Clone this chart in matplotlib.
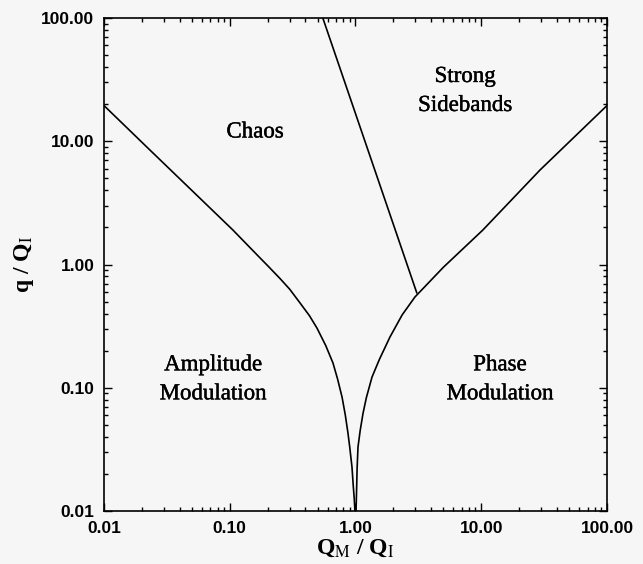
import matplotlib
matplotlib.use("Agg")
import matplotlib.pyplot as plt
import matplotlib.patheffects as pe
from matplotlib.ticker import FixedLocator, FixedFormatter, LogLocator, NullFormatter

# boundary curves (log-log)
left_x = [0.01, 0.0232, 0.106, 0.17, 0.2, 0.251, 0.3, 0.362, 0.43, 0.494, 0.58,
          0.662, 0.72, 0.782, 0.83, 0.871, 0.9, 0.938, 0.96, 0.978, 0.99]
left_y = [19.5, 8.49, 1.905, 1.16, 0.98, 0.77, 0.63, 0.488, 0.385, 0.305, 0.22,
          0.159, 0.118, 0.084, 0.06, 0.043, 0.033, 0.0227, 0.016, 0.0125, 0.01]

right_x = [1.01, 1.02, 1.03, 1.047, 1.09, 1.148, 1.22, 1.353, 1.55, 1.88, 2.35,
           2.97, 5.0, 10.3, 29.3, 100.0]
right_y = [0.01, 0.0145, 0.022, 0.033, 0.045, 0.062, 0.083, 0.122, 0.17, 0.258, 0.39,
           0.545, 0.95, 1.905, 5.84, 19.5]

steep_x = [0.55, 3.07]
steep_y = [100.0, 0.59]

tick_vals = [0.01, 0.1, 1.0, 10.0, 100.0]
xtick_labels = ["0.01", "0.10", "1.00", "10.00", "100.00"]
ytick_labels = ["0.01", "0.10", "1.00", "10.00", "100.00"]

regions = [
    ("Chaos", 0.159, 11.9),
    ("Strong\nSidebands", 7.43, 25.6),
    ("Amplitude\nModulation", 0.0737, 0.117),
    ("Phase\nModulation", 14.1, 0.117),
]

plt.rcParams["mathtext.fontset"] = "stix"
bg = "#f6f6f6"

fig = plt.figure(figsize=(6.43, 5.64), dpi=100, facecolor=bg)
ax = fig.add_axes([0.1617, 0.094, 0.7823, 0.874], facecolor=bg)

ax.plot(left_x, left_y, color="black", lw=1.2)
ax.plot(right_x, right_y, color="black", lw=1.2)
ax.plot(steep_x, steep_y, color="black", lw=1.2)

ax.set_xscale("log")
ax.set_yscale("log")
ax.set_xlim(0.01, 100)
ax.set_ylim(0.01, 100)

for axis, labels in ((ax.xaxis, xtick_labels), (ax.yaxis, ytick_labels)):
    axis.set_major_locator(FixedLocator(tick_vals))
    axis.set_major_formatter(FixedFormatter(labels))
    axis.set_minor_locator(LogLocator(base=10, subs=range(2, 10)))
    axis.set_minor_formatter(NullFormatter())

ax.tick_params(which="both", direction="in", top=True, right=True, width=1.0)
ax.tick_params(which="major", length=6, pad=7)
ax.tick_params(which="minor", length=3)
for lab in ax.get_xticklabels() + ax.get_yticklabels():
    lab.set_fontfamily("Liberation Sans")
    lab.set_fontweight("bold")
    lab.set_fontsize(12.5)

for sp in ax.spines.values():
    sp.set_linewidth(1.2)

thick = [pe.withStroke(linewidth=0.3, foreground="black")]
for txt, x, y in regions:
    ax.text(x, y, txt, ha="center", va="center", family="Liberation Serif",
            fontsize=16.5, linespacing=1.5, path_effects=thick)

ax.set_xlabel(r"Q$_\mathrm{M}$ / Q$_\mathrm{I}$", family="Liberation Serif",
              fontsize=17, fontweight="bold", labelpad=1)
ax.set_ylabel(r"q / Q$_\mathrm{I}$", family="Liberation Serif",
              fontsize=17, fontweight="bold", labelpad=4)

fig.savefig("out.png", dpi=100, facecolor=bg)
